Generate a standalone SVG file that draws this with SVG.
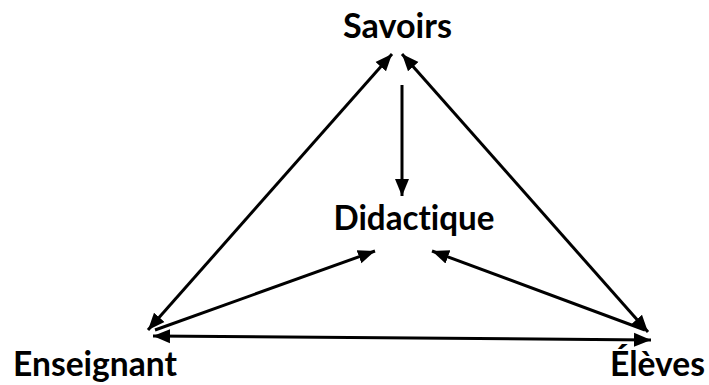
<svg xmlns="http://www.w3.org/2000/svg" width="709" height="385" viewBox="0 0 709 385">
<style>
.lbl{font-family:Lato,"Open Sans","Liberation Sans",sans-serif;font-weight:bold;font-size:34px;fill:#000;text-anchor:middle;font-variant-ligatures:none;font-feature-settings:"liga" 0}
.ln{stroke:#000;stroke-width:3;fill:none}
</style>
<defs>
<marker id="ah" markerUnits="userSpaceOnUse" markerWidth="18" markerHeight="16" refX="17" refY="7" orient="auto-start-reverse" viewBox="0 0 18 14">
<path d="M0,0 L17,7 L0,14 Z" fill="#000"/>
</marker>
</defs>
<rect width="709" height="385" fill="#fff"/>
<g id="connectors">
<line class="ln" x1="392" y1="54" x2="148" y2="330" marker-start="url(#ah)" marker-end="url(#ah)"/>
<line class="ln" x1="402" y1="54" x2="648" y2="332" marker-start="url(#ah)" marker-end="url(#ah)"/>
<line class="ln" x1="402" y1="85" x2="402" y2="196" marker-end="url(#ah)"/>
<line class="ln" x1="155" y1="330" x2="375" y2="251" marker-end="url(#ah)"/>
<line class="ln" x1="645" y1="330" x2="432" y2="251" marker-end="url(#ah)"/>
<line class="ln" x1="153" y1="336" x2="651" y2="340" marker-start="url(#ah)" marker-end="url(#ah)"/>
</g>
<g id="savoirs"><text class="lbl" x="397.5" y="38" textLength="109" lengthAdjust="spacingAndGlyphs">Savoirs</text></g>
<g id="didactique"><text class="lbl" x="414" y="230" textLength="161" lengthAdjust="spacingAndGlyphs">Didactique</text></g>
<g id="enseignant"><text class="lbl" x="95" y="376" textLength="164" lengthAdjust="spacingAndGlyphs">Enseignant</text></g>
<g id="eleves"><text class="lbl" x="657.5" y="376" textLength="95" lengthAdjust="spacingAndGlyphs">Élèves</text></g>
</svg>
